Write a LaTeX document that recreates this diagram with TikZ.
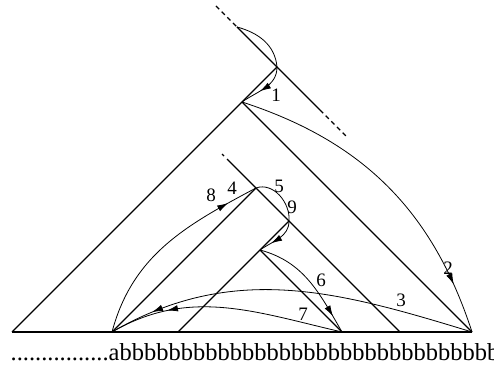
\documentclass[tikz,border=0pt]{standalone}
\usepackage{fontspec}
\setmainfont{Liberation Serif}
\usetikzlibrary{decorations.markings,arrows.meta}
\begin{document}
\begin{tikzpicture}[x=1pt,y=1pt,
  thickline/.style={line width=1.3pt},
  curveline/.style={line width=0.8pt},
  dashline/.style={line width=1.3pt, dash pattern=on 4.5pt off 3.5pt},
  midarrow/.style={postaction={decorate},decoration={markings,
     mark=at position #1 with {\arrow{Latex[length=11pt,width=6.5pt]}}}},
  lbl/.style={font=\fontsize{19}{19}\selectfont, inner sep=0pt},
  bottomtext/.style={font=\fontsize{24.5}{24.5}\selectfont, inner sep=0pt, anchor=base west}
]
\useasboundingbox (0,0) rectangle (494,366);
% points
\coordinate (L0) at (12,34);
\coordinate (a) at (112,34);
\coordinate (b3) at (178,34);
\coordinate (S3) at (342,34);
\coordinate (S2) at (400,34);
\coordinate (R) at (472,34);
\coordinate (A1) at (242,264);
\coordinate (P) at (277,299);
\coordinate (T0) at (216,360);
\coordinate (T1) at (237,339);
\coordinate (T2) at (320,256);
\coordinate (T3) at (348,228);
\coordinate (B2) at (256,178);
\coordinate (D1) at (227,207);
\coordinate (D0) at (224,210);
\coordinate (Dm) at (222,212);
\coordinate (A3) at (260,116);
\coordinate (Q2) at (289,145);
% straight lines
\draw[thickline] (L0) -- (R);
\draw[thickline] (L0) -- (A1) -- (P);
\draw[thickline] (A1) -- (R);
\draw[dashline] (T0) -- (T1);
\draw[thickline] (T1) -- (T2);
\draw[dashline] (T2) -- (T3);
\draw[thickline] (a) -- (B2);
\draw[thickline] (D1) -- (S2);
\draw[thickline] (Dm) -- (D0);
\draw[thickline] (b3) -- (A3) -- (Q2);
\draw[thickline] (A3) -- (S3);
% curves
\draw[curveline] (T1) to[out=-15,in=95] (P);
\draw[curveline,midarrow=0.6] (P) to[out=-90,in=35] (A1);
\draw[curveline,midarrow=0.85] (A1) to[bend left=27] (R);
\draw[curveline,midarrow=0.88] (R) to[out=163,in=30] (a);
\draw[curveline,midarrow=0.75] (S3) to[out=167,in=30] (a);
\draw[curveline,midarrow=0.85] (a) to[out=75,in=208] (B2);
\draw[curveline] (B2) to[out=20,in=85] (Q2);
\draw[curveline,midarrow=0.7] (Q2) to[out=-90,in=35] (A3);
\draw[curveline,midarrow=0.85] (A3) to[out=-15,in=120] (S3);
% labels
\node[lbl] (l1) at (276,271) {1};
\node[lbl] (l2) at (448,98) {2};
\node[lbl] (l3) at (401,66) {3};
\node[lbl] (l4) at (232,178) {4};
\node[lbl] (l5) at (279,180) {5};
\node[lbl] (l6) at (321,86) {6};
\node[lbl] (l7) at (303,52) {7};
\node[lbl] (l8) at (211,171) {8};
\node[lbl] (l9) at (292,159) {9};
\node[bottomtext] (txt) at (10.5,6) {................abbbbbbbbbbbbbbbbbbbbbbbbbbbbbbb};
\end{tikzpicture}
\end{document}
